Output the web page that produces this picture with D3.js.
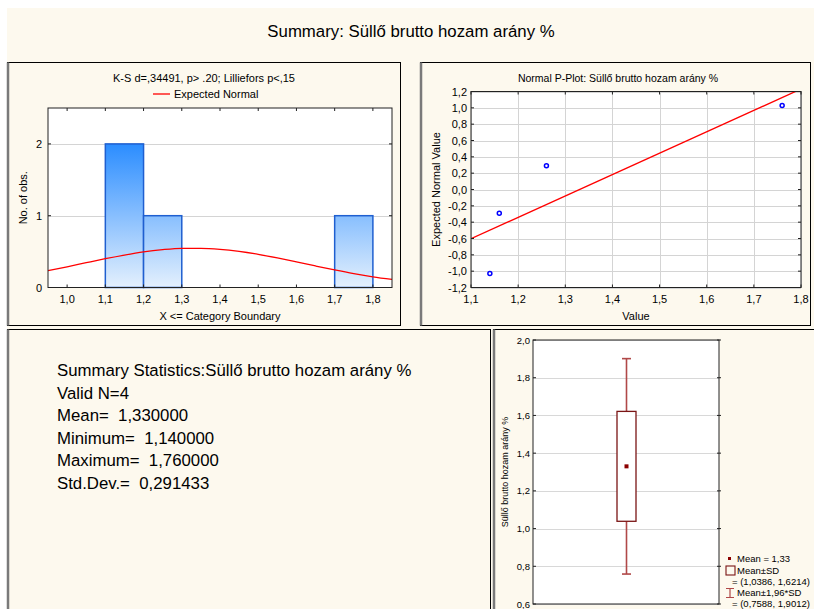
<!DOCTYPE html>
<html><head><meta charset="utf-8">
<script src="https://cdn.jsdelivr.net/npm/d3@7"></script>
<style>
body{margin:0;background:#fff;}
text{font-family:"Liberation Sans",Arial,sans-serif;fill:#000;white-space:pre;}
</style></head>
<body>
<script>
// ---------- DATA ----------
const mainTitle = "Summary: Süllő brutto hozam arány %";
// Histogram
const histTitle = "K-S d=,34491, p> .20; Lilliefors p<,15";
const histLegend = "Expected Normal";
const binLo = [1.1, 1.2, 1.7];
const binHi = [1.2, 1.3, 1.8];
const binCount = [2, 1, 1];
const histXTicks = [1.0, 1.1, 1.2, 1.3, 1.4, 1.5, 1.6, 1.7, 1.8];
const histYTicks = [0, 1, 2];
const normX = [0.95,1.00,1.05,1.10,1.15,1.20,1.25,1.30,1.35,1.40,1.45,1.50,1.55,1.60,1.65,1.70,1.75,1.80,1.85];
const normY = [0.234,0.288,0.345,0.401,0.452,0.496,0.527,0.545,0.546,0.532,0.503,0.462,0.412,0.357,0.300,0.245,0.194,0.149,0.112];
// Normal probability plot
const ppTitle = "Normal P-Plot: Süllő brutto hozam arány %";
const ppX = [1.14, 1.16, 1.26, 1.76];
const ppY = [-1.03, -0.29, 0.29, 1.03];
const fitX = [1.1, 1.8];
const fitY = [-0.603, 1.231];
const ppXTicks = [1.1,1.2,1.3,1.4,1.5,1.6,1.7,1.8];
const ppYTicks = [-1.2,-1.0,-0.8,-0.6,-0.4,-0.2,0.0,0.2,0.4,0.6,0.8,1.0,1.2];
// Summary statistics
const statLines = ["Summary Statistics:Süllő brutto hozam arány %","Valid N=4","Mean=  1,330000","Minimum=  1,140000","Maximum=  1,760000","Std.Dev.=  0,291433"];
// Box plot
const boxLabel = "Süllő brutto hozam arány %";
const boxMean = [1.33];
const boxSD = [1.0386, 1.6214];
const boxCI = [0.7588, 1.9012];
const boxYTicks = [0.6,0.8,1.0,1.2,1.4,1.6,1.8,2.0];
const boxLegend = ["Mean = 1,33","Mean±SD","= (1,0386, 1,6214)","Mean±1,96*SD","= (0,7588, 1,9012)"];

// ---------- DRAW ----------
const W = 814, H = 609;
const cream = "#fdf9ee";
const svg = d3.select("body").append("svg").attr("width", W).attr("height", H);
svg.append("rect").attr("x",7).attr("y",8).attr("width",W-7).attr("height",H-8).attr("fill",cream);
const fmt1 = v => d3.format(".1f")(v).replace("−","-").replace(".",",");

svg.append("text").attr("x",411).attr("y",37).attr("text-anchor","middle")
  .style("font-size","16.8px").text(mainTitle);

function panel(x0,y0,x1,y1){
  const g = svg.append("g");
  g.append("rect").attr("x",x0).attr("y",y0).attr("width",x1-x0).attr("height",y1-y0)
    .attr("fill",cream).attr("stroke","#000").attr("stroke-width",1);
  g.append("line").attr("x1",x0+0.5).attr("x2",x0+0.5).attr("y1",y0).attr("y2",y1)
    .attr("stroke","#7a7a7a").attr("stroke-width",2.5);
  return g;
}
panel(7.5,62.5,400.5,325.5);
panel(420.5,62.5,810.5,325.5);
panel(7.5,329.5,490.5,620);
panel(493.5,329.5,830,620);

// ---------- Histogram ----------
{
  const L=48,R=392,T=108,B=287.5;
  const x = d3.scaleLinear().domain([0.95,1.85]).range([L,R]);
  const y = d3.scaleLinear().domain([0,2.5]).range([B,T]);
  const g = svg.append("g");
  g.append("rect").attr("x",L).attr("y",T).attr("width",R-L).attr("height",B-T).attr("fill","#fff");
  g.selectAll(".gl").data(histYTicks.filter(d=>d>0)).enter().append("line")
    .attr("x1",L).attr("x2",R).attr("y1",d=>Math.round(y(d))+0.5).attr("y2",d=>Math.round(y(d))+0.5)
    .attr("stroke","#d4d4d4");
  const defs = svg.append("defs");
  const grad = defs.append("linearGradient").attr("id","hg").attr("gradientUnits","userSpaceOnUse")
    .attr("x1",0).attr("x2",0).attr("y1",y(2)).attr("y2",y(0));
  grad.append("stop").attr("offset","0").attr("stop-color","#2b8dff");
  grad.append("stop").attr("offset","1").attr("stop-color","#e4f0fd");
  g.selectAll(".bar").data(binCount).enter().append("rect")
    .attr("x",(d,i)=>x(binLo[i])).attr("width",(d,i)=>x(binHi[i])-x(binLo[i]))
    .attr("y",d=>y(d)).attr("height",d=>y(0)-y(d))
    .attr("fill","url(#hg)").attr("stroke","#1f5fd0").attr("stroke-width",1.5);
  const line = d3.line().x((d,i)=>x(normX[i])).y(d=>y(d)).curve(d3.curveMonotoneX);
  g.append("path").attr("d",line(normY)).attr("fill","none").attr("stroke","#ff0000").attr("stroke-width",1.3);
  g.append("rect").attr("x",L).attr("y",T).attr("width",R-L).attr("height",B-T).attr("fill","none").attr("stroke","#222");
  histXTicks.forEach(v=>{
    g.append("line").attr("x1",x(v)).attr("x2",x(v)).attr("y1",B).attr("y2",B-3).attr("stroke","#222");
    g.append("line").attr("x1",x(v)).attr("x2",x(v)).attr("y1",T).attr("y2",T+3).attr("stroke","#222");
    g.append("text").attr("x",x(v)).attr("y",303).attr("text-anchor","middle").style("font-size","11px").text(fmt1(v));
  });
  histYTicks.forEach(v=>{
    g.append("line").attr("x1",L).attr("x2",L+3).attr("y1",y(v)).attr("y2",y(v)).attr("stroke","#222");
    g.append("line").attr("x1",R).attr("x2",R-3).attr("y1",y(v)).attr("y2",y(v)).attr("stroke","#222");
    g.append("text").attr("x",42).attr("y",y(v)+4).attr("text-anchor","end").style("font-size","11px").text(v);
  });
  g.append("text").attr("x",(L+R)/2).attr("y",320).attr("text-anchor","middle").style("font-size","11px").text("X <= Category Boundary");
  g.append("text").attr("transform",`translate(27,${(T+B)/2}) rotate(-90)`).attr("text-anchor","middle").style("font-size","11px").text("No. of obs.");
  g.append("text").attr("x",204).attr("y",82).attr("text-anchor","middle").style("font-size","11px").text(histTitle);
  g.append("line").attr("x1",153).attr("x2",170).attr("y1",94).attr("y2",94).attr("stroke","#ff0000").attr("stroke-width",1.3);
  g.append("text").attr("x",174).attr("y",98).style("font-size","11px").text(histLegend);
}

// ---------- Normal P-Plot ----------
{
  const L=471,R=801,T=91.5,B=287.5;
  const x = d3.scaleLinear().domain([1.1,1.8]).range([L,R]);
  const y = d3.scaleLinear().domain([-1.2,1.2]).range([B,T]);
  const g = svg.append("g");
  g.append("rect").attr("x",L).attr("y",T).attr("width",R-L).attr("height",B-T).attr("fill","#fff");
  ppXTicks.forEach(v=>{
    g.append("line").attr("x1",Math.round(x(v))+0.5).attr("x2",Math.round(x(v))+0.5).attr("y1",T).attr("y2",B).attr("stroke","#d4d4d4");
  });
  ppYTicks.forEach(v=>{
    g.append("line").attr("x1",L).attr("x2",R).attr("y1",Math.round(y(v))+0.5).attr("y2",Math.round(y(v))+0.5).attr("stroke","#d4d4d4");
  });
  const cp = svg.append("defs").append("clipPath").attr("id","ppclip");
  cp.append("rect").attr("x",L).attr("y",T).attr("width",R-L).attr("height",B-T);
  g.append("line").attr("clip-path","url(#ppclip)")
    .attr("x1",x(fitX[0])).attr("y1",y(fitY[0])).attr("x2",x(fitX[1])).attr("y2",y(fitY[1]))
    .attr("stroke","#ff0000").attr("stroke-width",1.3);
  g.append("rect").attr("x",L).attr("y",T).attr("width",R-L).attr("height",B-T).attr("fill","none").attr("stroke","#222");
  ppXTicks.forEach(v=>{
    g.append("line").attr("x1",x(v)).attr("x2",x(v)).attr("y1",B).attr("y2",B-3).attr("stroke","#222");
    g.append("line").attr("x1",x(v)).attr("x2",x(v)).attr("y1",T).attr("y2",T+3).attr("stroke","#222");
    g.append("text").attr("x",x(v)).attr("y",303).attr("text-anchor","middle").style("font-size","11px").text(fmt1(v));
  });
  ppYTicks.forEach(v=>{
    g.append("line").attr("x1",L).attr("x2",L+3).attr("y1",y(v)).attr("y2",y(v)).attr("stroke","#222");
    g.append("line").attr("x1",R).attr("x2",R-3).attr("y1",y(v)).attr("y2",y(v)).attr("stroke","#222");
    g.append("text").attr("x",467).attr("y",y(v)+4).attr("text-anchor","end").style("font-size","11px").text(fmt1(v));
  });
  g.selectAll(".pt").data(ppY).enter().append("circle")
    .attr("cx",(d,i)=>x(ppX[i])).attr("cy",d=>y(d)).attr("r",2)
    .attr("fill","none").attr("stroke","#0000ff").attr("stroke-width",1.5);
  g.append("text").attr("x",(L+R)/2).attr("y",320).attr("text-anchor","middle").style("font-size","11px").text("Value");
  g.append("text").attr("transform",`translate(440,${(T+B)/2}) rotate(-90)`).attr("text-anchor","middle").style("font-size","11px").text("Expected Normal Value");
  g.append("text").attr("x",618).attr("y",82).attr("text-anchor","middle").style("font-size","10.5px").text(ppTitle);
}

// ---------- Summary statistics ----------
{
  const g = svg.append("g");
  g.selectAll("text").data(statLines).enter().append("text")
    .attr("x",57).attr("y",(d,i)=>376+i*22.6).attr("xml:space","preserve")
    .style("font-size","16.8px").text(d=>d);
}

// ---------- Box plot ----------
{
  const L=533,R=719,T=340,B=604;
  const y = d3.scaleLinear().domain([0.6,2.0]).range([B,T]);
  const cx = 626.5;
  const g = svg.append("g");
  g.append("rect").attr("x",L).attr("y",T).attr("width",R-L).attr("height",B-T).attr("fill","#fff");
  boxYTicks.forEach(v=>{
    g.append("line").attr("x1",L).attr("x2",R).attr("y1",Math.round(y(v))+0.5).attr("y2",Math.round(y(v))+0.5).attr("stroke","#d8d8d8");
  });
  const wc = "#b04848";
  g.append("line").attr("x1",cx).attr("x2",cx).attr("y1",y(boxCI[0])).attr("y2",y(boxCI[1])).attr("stroke",wc).attr("stroke-width",1.6);
  boxCI.forEach(v=>{
    g.append("line").attr("x1",cx-4.5).attr("x2",cx+4.5).attr("y1",y(v)).attr("y2",y(v)).attr("stroke",wc).attr("stroke-width",1.6);
  });
  g.append("rect").attr("x",cx-9.5).attr("width",19).attr("y",y(boxSD[1])).attr("height",y(boxSD[0])-y(boxSD[1]))
    .attr("fill","#fff").attr("stroke","#7a1515").attr("stroke-width",1.3);
  g.selectAll(".m").data(boxMean).enter().append("rect")
    .attr("x",cx-2).attr("y",d=>y(d)-2).attr("width",4).attr("height",4).attr("fill","#8b0000");
  g.append("rect").attr("x",L).attr("y",T).attr("width",R-L).attr("height",B-T).attr("fill","none").attr("stroke","#222");
  boxYTicks.forEach(v=>{
    g.append("line").attr("x1",L).attr("x2",L+3).attr("y1",y(v)).attr("y2",y(v)).attr("stroke","#222");
    g.append("line").attr("x1",R-2).attr("x2",R+2).attr("y1",y(v)).attr("y2",y(v)).attr("stroke","#222");
    g.append("text").attr("x",530).attr("y",y(v)+3.5).attr("text-anchor","end").style("font-size","9.5px").text(fmt1(v));
  });
  g.append("text").attr("transform",`translate(508,${(T+B)/2}) rotate(-90)`).attr("text-anchor","middle").style("font-size","9px").text(boxLabel);
  // legend
  const ly = [562,573.5,584.5,595.5,606.5];
  const lx = [737,737,732,737,732];
  g.selectAll(".lg").data(boxLegend).enter().append("text")
    .attr("x",(d,i)=>lx[i]).attr("y",(d,i)=>ly[i]).style("font-size","9.5px").text(d=>d);
  g.append("rect").attr("x",728).attr("y",557).attr("width",3).attr("height",3).attr("fill","#8b0000");
  g.append("rect").attr("x",726).attr("y",566).attr("width",9).attr("height",9).attr("fill","none").attr("stroke","#7a1515").attr("stroke-width",1.1);
  g.append("path").attr("d","M726,588.5H734M730,588.5V597.5M726,597.5H734").attr("fill","none").attr("stroke",wc).attr("stroke-width",1.2);
}
</script>
</body></html>
